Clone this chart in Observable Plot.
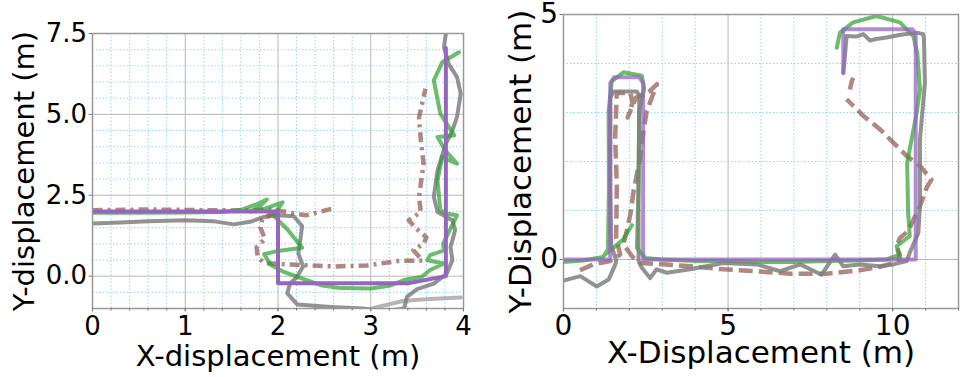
<!DOCTYPE html>
<html>
<head>
<meta charset="utf-8">
<script src="https://cdn.jsdelivr.net/npm/d3@7"></script>
<script src="https://cdn.jsdelivr.net/npm/@observablehq/plot@0.6"></script>
<style>
  html, body { margin: 0; padding: 0; background: #fff; }
  #charts { display: flex; width: 960px; height: 377px; overflow: hidden; }
</style>
</head>
<body>
<div id="charts"></div>
<script>
// ---- Left panel: trajectories, [x, y] in metres; null breaks a line ----
const leftReference = [[0, 2.0], [2.0, 2.0], [2.0, -0.22], [3.4, -0.22], [3.81, 0.0], [3.81, 7.05]];

const leftGreen = [
  [0, 1.96], [0.5, 1.96], [1.0, 1.97], [1.4, 1.98], [1.6, 2.05], [1.75, 2.2], [1.88, 2.37],
  [1.78, 2.1], [1.7, 2.0], [1.85, 2.08], [2.05, 2.28], [1.98, 2.0], [1.96, 1.85], [2.1, 1.45],
  [2.26, 0.88], [2.0, 0.78], [1.85, 0.68], [1.92, 0.35], [2.05, 0.15], [2.21, -0.02],
  [2.46, -0.28], [2.67, -0.37], [3.0, -0.38], [3.2, -0.3], [3.36, -0.12], [3.55, -0.02],
  [3.64, 0.19], [3.79, 0.39], [3.61, 0.49], [3.64, 0.65], [3.79, 0.8], [3.78, 1.0],
  [3.93, 1.88], [3.82, 1.93], [3.75, 2.04], [3.72, 2.96], [3.77, 3.68], [3.93, 3.48],
  [3.8, 3.9], [3.72, 4.3], [3.9, 4.35], [3.75, 5.02], [3.68, 6.05], [3.77, 6.61], [3.95, 6.92]
];

const leftGray = [
  [0, 1.63], [0.3, 1.66], [0.6, 1.7], [1.0, 1.73], [1.3, 1.7], [1.52, 1.6], [1.7, 1.68],
  [1.85, 1.83], [2.0, 1.88], [2.17, 1.85], [2.26, 1.55], [2.24, 1.1], [2.22, 0.7], [2.27, 0.3],
  [2.2, -0.05], [2.13, -0.22], [2.1, -0.53], [2.21, -0.88], [2.57, -0.95], [2.92, -1.0],
  [3.15, -1.08], [3.36, -1.0], [3.39, -0.64], [3.5, -0.4], [3.68, -0.23], [3.82, 0.08],
  [3.88, 0.49], [3.86, 0.9], [3.91, 1.42], [3.88, 1.73], [3.72, 1.98], [3.68, 2.45],
  [3.72, 3.27], [3.81, 4.1], [3.88, 4.5], [3.93, 4.92], [3.97, 5.64], [3.93, 6.15],
  [3.84, 6.56], [3.79, 7.08], [3.81, 7.5]
];

const leftGrayTail = [[3.03, -0.98], [3.36, -0.76], [3.64, -0.71], [3.97, -0.66]];

const leftBrown = [
  [0, 2.04], [0.6, 2.06], [1.2, 2.04], [1.6, 2.03], [1.95, 2.06], [2.15, 1.95], [2.3, 1.88], [2.6, 2.1],
  [null, null],
  [1.97, 2.0], [1.83, 1.75], [1.81, 1.5], [1.86, 1.15], [1.77, 0.9], [1.78, 0.6], [1.85, 0.4],
  [2.2, 0.35], [2.6, 0.3], [2.96, 0.33], [3.3, 0.47], [3.56, 0.48], [3.46, 0.8], [3.57, 1.0],
  [3.6, 1.2], [3.48, 1.5], [3.41, 1.73], [3.54, 1.98], [3.52, 2.45], [3.57, 3.48],
  [3.54, 4.2], [3.52, 4.9], [3.59, 5.79]
];

// ---- Right panel ----
const rightReference = [
  [0, 0], [1.42, 0], [1.42, 3.6], [1.54, 3.72], [2.3, 3.72], [2.42, 3.6], [2.42, 0],
  [10.7, 0], [10.7, 4.6], [10.6, 4.7], [8.5, 4.7], [8.5, 3.8]
];

const rightGreen = [
  [0, -0.05], [0.6, -0.02], [1.2, 0.05], [1.35, 0.2], [1.38, 1.5], [1.37, 3.03], [1.47, 3.64],
  [1.82, 3.82], [2.38, 3.75], [2.45, 3.5], [2.3, 3.0], [2.28, 1.5], [2.23, 0.24], [2.48, 0.03],
  [3.0, 0.0], [4.0, -0.03], [5.0, -0.03], [6.0, -0.05], [7.0, -0.05], [8.0, -0.03], [9.0, -0.02],
  [9.8, 0.0], [10.22, 0.1], [10.12, 0.27], [10.52, 0.48], [10.47, 0.95], [10.44, 1.97],
  [10.73, 3.0], [10.83, 3.47], [10.75, 4.2], [10.63, 4.56], [10.22, 4.84], [9.51, 4.97],
  [8.8, 4.84], [8.4, 4.63], [8.3, 4.32],
  [null, null],
  [2.08, 0.7], [1.8, 0.4], [1.3, 0.12]
];

const rightGray = [
  [0, -0.43], [0.51, -0.34], [1.01, -0.55], [1.37, -0.41], [1.57, -0.11], [1.6, -0.02],
  [1.45, 0.3], [1.42, 1.5], [1.42, 3.3], [1.52, 3.43], [2.23, 3.43], [2.3, 3.34], [2.28, 1.5],
  [2.28, -0.03], [2.38, -0.17], [2.63, -0.38], [2.83, -0.2], [3.14, -0.27], [3.85, -0.2],
  [4.86, -0.07], [5.87, -0.1], [6.58, -0.24], [7.19, -0.1], [7.84, -0.31], [8.25, 0.1],
  [8.5, -0.14], [9.0, -0.1], [9.61, -0.14], [10.02, -0.1], [10.43, -0.03], [10.52, 0.14],
  [10.78, 0.54], [10.83, 1.09], [10.83, 2.45], [10.98, 3.61], [10.95, 4.5], [10.93, 4.6],
  [10.73, 4.63], [10.2, 4.58], [9.82, 4.53], [9.5, 4.5], [9.31, 4.47], [9.11, 4.6],
  [8.9, 4.55], [8.6, 4.56], [8.55, 4.15], [8.5, 3.81]
];

const rightBrown = [
  [0.5, -0.22], [0.9, -0.1], [1.42, -0.03], [1.72, 0.1], [1.6, 0.45], [1.62, 1.5], [1.57, 2.5],
  [1.62, 3.4], [2.03, 3.4], [2.1, 3.2], [1.95, 2.9], [2.2, 3.3], [2.63, 3.44], [2.84, 3.58],
  [2.53, 3.03], [2.43, 2.62], [2.33, 2.08], [2.13, 1.4], [2.03, 0.92], [1.92, 0.58], [1.82, 0.31],
  [2.1, 0.05], [2.33, -0.07], [3.14, -0.1], [3.85, -0.14], [4.86, -0.2], [5.87, -0.24],
  [6.88, -0.29], [8.0, -0.29], [9.0, -0.22], [9.61, -0.15], [10.12, -0.05], [10.22, 0.05],
  [10.12, 0.27], [10.22, 0.44], [10.47, 0.58], [10.83, 1.09], [11.03, 1.46], [11.18, 1.63],
  [10.83, 1.91], [10.43, 2.11], [10.22, 2.25], [9.82, 2.52], [9.61, 2.66], [9.11, 2.93], [8.6, 3.27],
  [null, null],
  [8.7, 3.47], [8.76, 3.64], [8.8, 3.71]
];

// ---- Axis ticks and titles ----
const leftXMajor = [0, 1, 2, 3, 4];
const leftYMajor = [0, 2.5, 5, 7.5];
const leftXMinor = d3.range(0, 4.01, 0.2).map(v => +v.toFixed(1));
const leftYMinor = d3.range(-1, 7.51, 0.5);
const rightXMajor = [0, 5, 10];
const rightYMajor = [0, 5];
const rightXMinor = d3.range(0, 12.01, 1);
const rightYMinor = d3.range(-1, 5.01, 1);

const colors = { reference: "#9467bd", green: "#2ca02c", gray: "#7f7f7f", brown: "#8c564b" };

const px = d => d[0];
const py = d => d[1];

function panel(cfg) {
  const lineWidth = 4;
  const minorX = cfg.xMinor.filter(v => !cfg.xMajor.includes(v));
  const minorY = cfg.yMinor.filter(v => !cfg.yMajor.includes(v));
  return Plot.plot({
    width: cfg.width,
    height: 377,
    marginLeft: cfg.margin[3],
    marginRight: cfg.margin[1],
    marginTop: cfg.margin[0],
    marginBottom: cfg.margin[2],
    x: { domain: cfg.xDomain, axis: null },
    y: { domain: cfg.yDomain, axis: null },
    style: { fontFamily: "'DejaVu Sans', sans-serif", background: "#fff", color: "#000", overflow: "visible" },
    marks: [
      Plot.gridX(minorX, { stroke: "#87cefa", strokeOpacity: 0.9, strokeDasharray: "1.5,2", strokeWidth: 1 }),
      Plot.gridY(minorY, { stroke: "#87cefa", strokeOpacity: 0.9, strokeDasharray: "1.5,2", strokeWidth: 1 }),
      Plot.gridX(cfg.xMajor, { stroke: "#b0b0b0", strokeOpacity: 0.9, strokeWidth: 1 }),
      Plot.gridY(cfg.yMajor, { stroke: "#b0b0b0", strokeOpacity: 0.9, strokeWidth: 1 }),
      ...cfg.lines.map(l => Plot.line(l.data, {
        x: px, y: py, stroke: l.color, strokeWidth: l.width || lineWidth,
        strokeOpacity: l.opacity, strokeDasharray: l.dash, clip: true,
        strokeLinejoin: "round", strokeLinecap: l.dash ? "butt" : "round"
      })),
      Plot.frame({ stroke: "#999", strokeWidth: 1.5 }),
      Plot.axisX(cfg.xMinor, { tickSize: 2.5, tickFormat: () => "", stroke: "#777" }),
      Plot.axisX(cfg.xMajor, {
        tickSize: 3.5, tickPadding: cfg.xPad, fontSize: cfg.tickFont, stroke: "#777",
        tickFormat: cfg.xFormat, label: null
      }),
      Plot.axisY(cfg.yMajor, {
        tickSize: 3.5, tickPadding: cfg.yPad, fontSize: cfg.tickFont, stroke: "#777",
        tickFormat: cfg.yFormat, label: null
      }),
      Plot.text([cfg.xLabel], {
        frameAnchor: "bottom", dy: cfg.xLabelDy, fontSize: cfg.labelFont, text: d => d,
        textAnchor: "middle", lineAnchor: "middle"
      }),
      Plot.text([cfg.yLabel], {
        frameAnchor: "left", dx: cfg.yLabelDx, rotate: -90, fontSize: cfg.labelFont, text: d => d,
        textAnchor: "middle", lineAnchor: "middle"
      })
    ]
  });
}

const left = panel({
  width: 480,
  margin: [33, 17, 69, 92],
  xDomain: [0, 4], yDomain: [-1, 7.5],
  xMajor: leftXMajor, yMajor: leftYMajor, xMinor: leftXMinor, yMinor: leftYMinor,
  xFormat: d3.format("d"), yFormat: d3.format(".1f"),
  tickFont: 26, labelFont: 29, xPad: 5, yPad: 2,
  xLabel: "X-displacement (m)", yLabel: "Y-displacement (m)",
  xLabelDy: 48, yLabelDx: -68,
  lines: [
    { data: leftGrayTail, color: "#a8a8a8", opacity: 0.85 },
    { data: leftGray, color: colors.gray, opacity: 0.85 },
    { data: leftBrown, color: colors.brown, opacity: 0.7, dash: "10,5,3,5", width: 4.5 },
    { data: leftGreen, color: colors.green, opacity: 0.7 },
    { data: leftReference, color: colors.reference, opacity: 1 }
  ]
});

const right = panel({
  width: 480,
  margin: [14, 2, 69, 83],
  xDomain: [0, 12], yDomain: [-1, 5],
  xMajor: rightXMajor, yMajor: rightYMajor, xMinor: rightXMinor, yMinor: rightYMinor,
  xFormat: d3.format("d"), yFormat: d3.format("d"),
  tickFont: 28, labelFont: 31, xPad: 3, yPad: 2,
  xLabel: "X-Displacement (m)", yLabel: "Y-Displacement (m)",
  xLabelDy: 45, yLabelDx: -42,
  lines: [
    { data: rightBrown, color: colors.brown, opacity: 0.7, dash: "14,6", width: 4.5 },
    { data: rightGreen, color: colors.green, opacity: 0.7 },
    { data: rightGray, color: colors.gray, opacity: 0.85 },
    { data: rightReference, color: colors.reference, opacity: 0.75 }
  ]
});

document.getElementById("charts").append(left, right);
</script>
</body>
</html>
